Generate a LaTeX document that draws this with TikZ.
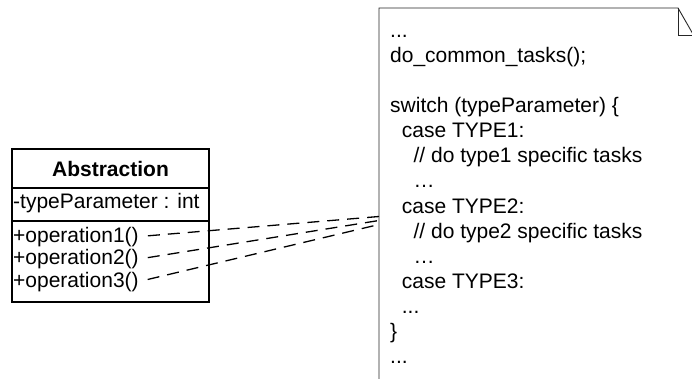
\documentclass[tikz,border=0pt]{standalone}
\usepackage{fontspec}
\setmainfont{Liberation Sans}
\usetikzlibrary{positioning, calc}
\colorlet{colour_box}{black}
\colorlet{colour_note}{black!85}

\begin{document}
\begin{tikzpicture}
   [
      x=1pt, y=-1pt,
      compartment/.style={draw=colour_box, line width=1.4pt, minimum width=197pt, inner sep=0pt, outer sep=0pt},
      member/.style={anchor=base west, inner sep=0pt, font=\fontsize{21}{23}\selectfont},
      code line/.style={anchor=base west, inner sep=0pt, font=\fontsize{21}{25}\selectfont},
      link/.style={line width=1.3pt, dash pattern=on 12pt off 8pt, shorten <=9pt},
      note/.style={line width=0.9pt, draw=colour_note}
   ]

   \useasboundingbox (0,0) rectangle (692,379);

   % =======================================================
   % Class: Abstraction
   % =======================================================

   \node[compartment, minimum height=39pt, font=\fontsize{21}{23}\selectfont\bfseries] (abs_name) at (110.5,168.5) {Abstraction};
   \node[compartment, minimum height=33pt] (abs_attr) at (110.5,204.5) {};
   \node[compartment, minimum height=81pt] (abs_ops) at (110.5,261.5) {};

   \node[member] (attr) at (13,208.5) {-typeParameter : int};
   \node[member] (op1) at (13,242) {+operation1()};
   \node[member] (op2) at (13,264.5) {+operation2()};
   \node[member] (op3) at (13,287) {+operation3()};

   % =======================================================
   % Note with the switch code
   % =======================================================

   \coordinate (note_bl) at (379,385);
   \coordinate (note_tl) at (379,8);
   \coordinate (fold_a) at (678,8);
   \coordinate (fold_b) at (693.5,35);
   \coordinate (note_br) at (693.5,385);

   \draw[note] (note_bl) -- (note_tl) -- (fold_a) -- (fold_b) -- (note_br);
   \draw[note] (fold_a) -- (fold_a |- fold_b) -- (fold_b);

   \foreach \k/\ind/\txt in {0/0/{...}, 1/0/{do\_common\_tasks();}, 3/0/{switch (typeParameter) \{},
         4/1/{case TYPE1:}, 5/2/{// do type1 specific tasks}, 6/2/{…},
         7/1/{case TYPE2:}, 8/2/{// do type2 specific tasks}, 9/2/{…},
         10/1/{case TYPE3:}, 11/1/{...}, 12/0/{\}}, 13/0/{...}}
      \node[code line] (code\k) at (390+11.7*\ind,38+25*\k) {\txt};

   % =======================================================
   % Links from operations to the note
   % =======================================================

   \coordinate (in1) at (379,216.5);
   \coordinate (in2) at (379,220.5);
   \coordinate (in3) at (379,224.5);

   \draw[link] (op1.east) -- (in1);
   \draw[link] (op2.east) -- (in2);
   \draw[link] (op3.east) -- (in3);

\end{tikzpicture}
\end{document}
